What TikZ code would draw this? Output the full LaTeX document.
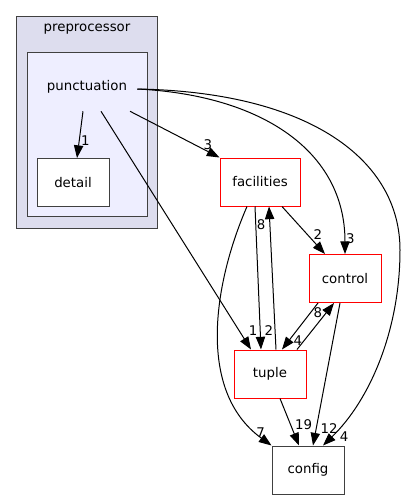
\documentclass[tikz,border=0pt]{standalone}
\usepackage{fontspec}
\setmainfont{DejaVu Sans}
\usetikzlibrary{arrows.meta,calc,positioning}
\definecolor{clusterout}{HTML}{DDDDEE}
\definecolor{clusterin}{HTML}{EEEEFF}
\definecolor{edgegray}{HTML}{404040}

\begin{document}
\begin{tikzpicture}[
  x=0.75pt, y=-0.75pt,
  every node/.style={font=\fontsize{10}{12}\selectfont, inner sep=1pt},
  cluster/.style={draw=edgegray, line width=0.75pt},
  dirbox/.style={draw=edgegray, fill=white, line width=0.75pt, minimum width=54pt, minimum height=36pt},
  redbox/.style={dirbox, draw=red},
  lbl/.style={font=\fontsize{10}{12}\selectfont, inner sep=1pt},
  dep/.style={-{Triangle[length=9.5pt,width=7pt]}, line width=0.75pt},
  >=Stealth
]
\useasboundingbox (0,0) rectangle (405,500);

% clusters
\node[cluster, fill=clusterout, minimum width=105.75pt, minimum height=159pt] (prep) at (86.5,122) {};
\node (prep-t) at (87,29) {preprocessor};
\node[cluster, fill=clusterin, minimum width=90pt, minimum height=123pt] (punct-c) at (87,134) {};
\node[minimum width=84pt, minimum height=36pt] (punct) at (87,87) {punctuation};

% directories
\node[dirbox]                      (detail)     at (73,182.5) {detail};
\node[redbox, minimum width=60pt]  (facilities) at (260,182)  {facilities};
\node[redbox]                      (control)    at (345,278.5) {control};
\node[redbox]                      (tuple)      at (270,374)  {tuple};
\node[dirbox]                      (config)     at (308,470)  {config};

% dependencies
\draw[dep] ($(punct.south)+(-4,0)$) -- ($(detail.north)+(4,0)$) node[lbl, pos=.63, right] {1};
\draw[dep] ($(punct.south)+(43,0)$) -- (facilities.north west) node[lbl, pos=.87, above] {3};
\draw[dep] ($(punct.south)+(14,0)$) -- ($(tuple.north)+(-19,0)$) node[lbl, pos=.92, right, xshift=6pt] {1};
\draw[dep] ($(punct.east)+(-6,2)$) .. controls (260,95) and (345,150) .. (control.north) node[lbl, pos=.95, right] {3};
\draw[dep] ($(punct.east)+(-6,2)$) .. controls (310,92) and (400,160) .. (400,250)
  .. controls (400,330) and (370,400) .. ($(config.north)+(15,0)$) node[lbl, pos=.94, right, xshift=5pt] {4};

\draw[dep] ($(facilities.south)+(-5,0)$) -- ($(tuple.north)+(-9,0)$) node[lbl, pos=.87, right, xshift=2pt] {2};
\draw[dep] ($(tuple.north)+(6,0)$) -- ($(facilities.south)+(9,0)$) node[lbl, pos=.87, left, xshift=-2pt] {8};
\draw[dep] ($(facilities.south)+(22,0)$) -- ($(control.north)+(-20,0)$) node[lbl, pos=.6, right, xshift=3pt] {2};
\draw[dep] ($(facilities.south)+(-13,0)$) .. controls (215,280) and (195,390) .. (config.north west) node[lbl, pos=.94, above left, xshift=6pt, yshift=-3pt] {7};

\draw[dep] ($(control.south)+(-27,0)$) -- ($(tuple.north)+(12,0)$) node[lbl, pos=.8, right, xshift=2pt] {4};
\draw[dep] ($(tuple.north)+(27,0)$) -- ($(control.south)+(-11,0)$) node[lbl, pos=.8, left, xshift=-2pt] {8};
\draw[dep] ($(control.south)+(-5,0)$) -- ($(config.north)+(5,0)$) node[lbl, pos=.88, right, xshift=2pt] {12};
\draw[dep] ($(tuple.south)+(10,0)$) -- ($(config.north)+(-9,0)$) node[lbl, pos=.56, right, xshift=2pt] {19};
\end{tikzpicture}
\end{document}
